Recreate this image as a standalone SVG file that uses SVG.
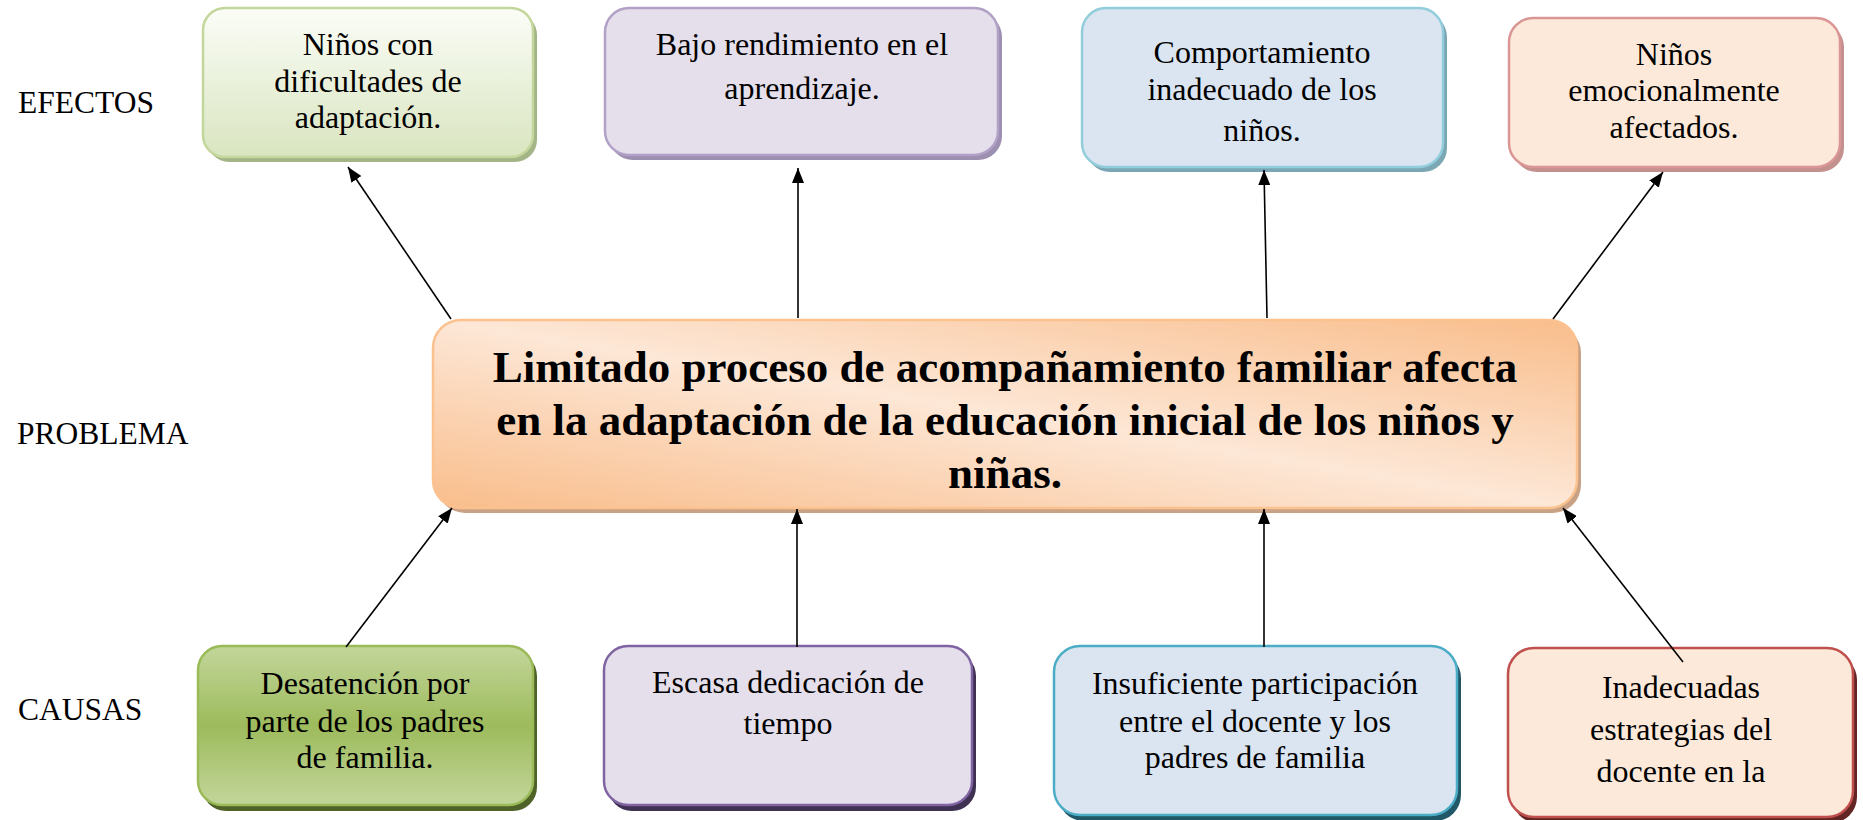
<svg xmlns="http://www.w3.org/2000/svg" width="1863" height="820" viewBox="0 0 1863 820">
<style>
  .t { font-family: "Liberation Serif", "Times New Roman", serif; font-size: 32px; fill: #000; text-anchor: middle; }
  .lab { font-family: "Liberation Serif", "Times New Roman", serif; font-size: 31.5px; fill: #000; }
  .main { font-family: "Liberation Serif", "Times New Roman", serif; font-size: 45px; font-weight: bold; fill: #000; text-anchor: middle; }
  .conn { stroke: #000; stroke-width: 1.6; fill: none; marker-end: url(#arr); }
  .bx { stroke-width: 2.5; }
</style>
<defs>
  <marker id="arr" markerUnits="userSpaceOnUse" markerWidth="16" markerHeight="12" refX="15" refY="6" orient="auto">
    <path d="M0,0 L15,6 L0,12 z" fill="#000"/>
  </marker>
  <linearGradient id="gE1" x1="0" y1="0" x2="0" y2="1">
    <stop offset="0" stop-color="#fbfdf7"/>
    <stop offset="1" stop-color="#d9e5c0"/>
  </linearGradient>
  <linearGradient id="gC1" x1="0" y1="0" x2="0" y2="1">
    <stop offset="0" stop-color="#c3d69b"/>
    <stop offset="0.5" stop-color="#9dbb5c"/>
    <stop offset="1" stop-color="#c3d69b"/>
  </linearGradient>
  <linearGradient id="gP" x1="0" y1="1" x2="1" y2="0">
    <stop offset="0" stop-color="#f9bd8b"/>
    <stop offset="0.5" stop-color="#fde7d6"/>
    <stop offset="1" stop-color="#f9bd8b"/>
  </linearGradient>
</defs>

<rect width="1863" height="820" fill="#fff"/>

<g id="labels">
  <text class="lab" x="18" y="113">EFECTOS</text>
  <text class="lab" x="17" y="444">PROBLEMA</text>
  <text class="lab" x="18" y="720">CAUSAS</text>
</g>

<g id="efecto1">
  <rect x="207" y="13" width="330" height="149" rx="22" fill="#a3b486"/>
  <rect class="bx" x="203" y="8" width="330" height="149" rx="22" fill="url(#gE1)" stroke="#c3d69b"/>
  <text class="t" x="368" y="55">Niños con</text>
  <text class="t" x="368" y="92">dificultades de</text>
  <text class="t" x="368" y="128">adaptación.</text>
</g>

<g id="efecto2">
  <rect x="609" y="13" width="393" height="147" rx="24" fill="#9d8fb0"/>
  <rect class="bx" x="605" y="8" width="393" height="147" rx="24" fill="#e5dfec" stroke="#b2a1c7"/>
  <text class="t" x="802" y="55">Bajo rendimiento en el</text>
  <text class="t" x="802" y="99">aprendizaje.</text>
</g>

<g id="efecto3">
  <rect x="1086" y="13" width="361" height="159" rx="24" fill="#7ba6b4"/>
  <rect class="bx" x="1082" y="8" width="361" height="159" rx="24" fill="#dbe5f1" stroke="#92cddc"/>
  <text class="t" x="1262" y="63">Comportamiento</text>
  <text class="t" x="1262" y="100">inadecuado de los</text>
  <text class="t" x="1262" y="141">niños.</text>
</g>

<g id="efecto4">
  <rect x="1513" y="23" width="331" height="149" rx="24" fill="#c3908e"/>
  <rect class="bx" x="1509" y="18" width="331" height="149" rx="24" fill="#fde9d9" stroke="#d99694"/>
  <text class="t" x="1674" y="65">Niños</text>
  <text class="t" x="1674" y="101">emocionalmente</text>
  <text class="t" x="1674" y="138">afectados.</text>
</g>

<g id="problema">
  <rect x="437" y="325" width="1144" height="188" rx="28" fill="#c9a285"/>
  <rect x="433" y="320" width="1144" height="188" rx="28" fill="url(#gP)" stroke="#fbc290" stroke-width="2.5"/>
  <text class="main" x="1005" y="382">Limitado proceso de acompañamiento familiar afecta</text>
  <text class="main" x="1005" y="435">en la adaptación de la educación inicial de los niños y</text>
  <text class="main" x="1005" y="488">niñas.</text>
</g>

<g id="causa1">
  <rect x="202" y="652" width="335" height="159" rx="24" fill="#4f6228"/>
  <rect class="bx" x="198" y="646" width="335" height="159" rx="24" fill="url(#gC1)" stroke="#9bbb59"/>
  <text class="t" x="365" y="694">Desatención por</text>
  <text class="t" x="365" y="732">parte de los padres</text>
  <text class="t" x="365" y="768">de familia.</text>
</g>

<g id="causa2">
  <rect x="608" y="652" width="368" height="159" rx="24" fill="#3f3151"/>
  <rect class="bx" x="604" y="646" width="368" height="159" rx="24" fill="#e5dfec" stroke="#8064a2"/>
  <text class="t" x="788" y="693">Escasa dedicación de</text>
  <text class="t" x="788" y="734">tiempo</text>
</g>

<g id="causa3">
  <rect x="1058" y="652" width="403" height="169" rx="26" fill="#215867"/>
  <rect class="bx" x="1054" y="646" width="403" height="169" rx="26" fill="#dbe5f1" stroke="#4bacc6"/>
  <text class="t" x="1255" y="694">Insuficiente participación</text>
  <text class="t" x="1255" y="732">entre el docente y los</text>
  <text class="t" x="1255" y="768">padres de familia</text>
</g>

<g id="causa4">
  <rect x="1512" y="654" width="345" height="169" rx="26" fill="#632523"/>
  <rect class="bx" x="1508" y="648" width="345" height="169" rx="26" fill="#fde9d9" stroke="#c0504d"/>
  <text class="t" x="1681" y="698">Inadecuadas</text>
  <text class="t" x="1681" y="740">estrategias del</text>
  <text class="t" x="1681" y="782">docente en la</text>
</g>

<g id="connectors">
  <line class="conn" x1="451" y1="319" x2="348" y2="167"/>
  <line class="conn" x1="798" y1="318" x2="798" y2="168"/>
  <line class="conn" x1="1267" y1="318" x2="1264" y2="170"/>
  <line class="conn" x1="1553" y1="319" x2="1663" y2="172"/>
  <line class="conn" x1="346" y1="647" x2="452" y2="508"/>
  <line class="conn" x1="797" y1="647" x2="797" y2="509"/>
  <line class="conn" x1="1264" y1="647" x2="1264" y2="509"/>
  <line class="conn" x1="1683" y1="662" x2="1563" y2="508"/>
</g>
</svg>
